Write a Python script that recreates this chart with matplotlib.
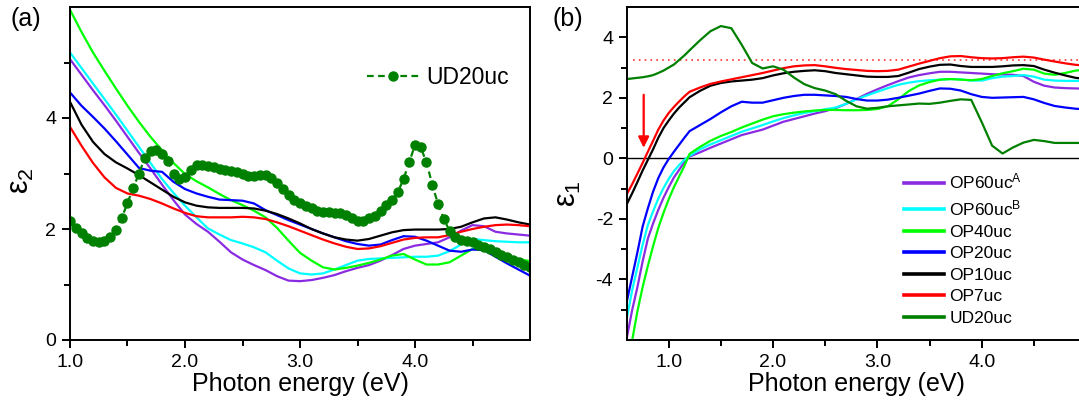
import numpy as np
import matplotlib
matplotlib.use("Agg")
import matplotlib.pyplot as plt
from matplotlib.ticker import FixedLocator, FormatStrFormatter

plt.rcParams['font.family'] = ['Liberation Sans', 'DejaVu Sans']
plt.rcParams['mathtext.fontset'] = 'custom'
plt.rcParams['mathtext.rm'] = 'Liberation Sans'
plt.rcParams['mathtext.it'] = 'Liberation Sans'

# ---------------- data: panel (a), imaginary part eps2 ----------------
energy_a = np.round(np.arange(1.0, 5.0001, 0.1), 2)
eps2_op60A = [5.06, 4.78, 4.50, 4.23, 3.95, 3.66, 3.37, 3.09, 2.80, 2.52, 2.26,
              2.09, 1.95, 1.77, 1.58, 1.45, 1.35, 1.26, 1.15, 1.07, 1.06,
              1.08, 1.12, 1.17, 1.24, 1.30, 1.35, 1.43, 1.53, 1.64, 1.70,
              1.73, 1.76, 1.85, 1.97, 2.07, 2.05, 1.95, 1.92, 1.90, 1.88]
eps2_op60B = [5.18, 4.90, 4.62, 4.34, 4.06, 3.77, 3.48, 3.19, 2.90, 2.65, 2.42,
              2.21, 2.01, 1.90, 1.80, 1.74, 1.67, 1.58, 1.43, 1.29, 1.20,
              1.18, 1.20, 1.27, 1.35, 1.43, 1.46, 1.47, 1.48, 1.49, 1.50,
              1.50, 1.52, 1.60, 1.72, 1.82, 1.80, 1.78, 1.77, 1.76, 1.76]
eps2_op40 = [5.95, 5.55, 5.18, 4.85, 4.53, 4.22, 3.93, 3.66, 3.42, 3.19, 2.99,
             2.86, 2.75, 2.63, 2.52, 2.43, 2.33, 2.21, 2.02, 1.79, 1.57,
             1.43, 1.31, 1.27, 1.30, 1.34, 1.39, 1.45, 1.52, 1.55, 1.45,
             1.36, 1.36, 1.40, 1.52, 1.64, 1.62, 1.56, 1.50, 1.46, 1.42]
eps2_op20 = [4.46, 4.22, 4.02, 3.81, 3.58, 3.34, 3.10, 3.05, 3.03, 2.85, 2.72,
             2.64, 2.58, 2.53, 2.52, 2.51, 2.46, 2.34, 2.25, 2.16, 2.08,
             2.00, 1.92, 1.85, 1.78, 1.73, 1.70, 1.72, 1.80, 1.87, 1.86,
             1.79, 1.70, 1.61, 1.59, 1.63, 1.62, 1.50, 1.38, 1.27, 1.16]
eps2_op10 = [4.29, 3.88, 3.57, 3.35, 3.20, 3.09, 2.97, 2.84, 2.71, 2.58, 2.48,
             2.42, 2.39, 2.38, 2.38, 2.38, 2.37, 2.33, 2.27, 2.19, 2.10,
             2.00, 1.92, 1.85, 1.81, 1.79, 1.82, 1.88, 1.94, 1.98, 1.99,
             1.99, 1.99, 2.00, 2.04, 2.12, 2.19, 2.21, 2.17, 2.12, 2.08]
eps2_op7 = [3.84, 3.50, 3.19, 2.93, 2.74, 2.64, 2.60, 2.54, 2.46, 2.37, 2.29,
            2.23, 2.21, 2.21, 2.21, 2.22, 2.21, 2.18, 2.12, 2.05, 1.97,
            1.89, 1.81, 1.74, 1.68, 1.64, 1.65, 1.69, 1.75, 1.81, 1.84,
            1.85, 1.85, 1.89, 1.95, 2.00, 2.04, 2.07, 2.08, 2.07, 2.05]

energy_ud = np.round(np.arange(1.0, 5.0001, 0.05), 2)
eps2_ud20 = [2.14, 2.01, 1.92, 1.84, 1.78, 1.76, 1.78, 1.85, 1.98, 2.20,
             2.47, 2.74, 3.00, 3.28, 3.41, 3.42, 3.36, 3.22, 3.00, 2.90,
             2.93, 3.07, 3.15, 3.16, 3.13, 3.11, 3.09, 3.07, 3.05, 3.02,
             2.99, 2.96, 2.95, 2.97, 2.97, 2.92, 2.82, 2.72, 2.62, 2.53,
             2.46, 2.41, 2.37, 2.33, 2.31, 2.30, 2.29, 2.28, 2.26, 2.19,
             2.15, 2.15, 2.19, 2.24, 2.33, 2.43, 2.52, 2.66, 2.90, 3.20,
             3.52, 3.47, 3.20, 2.80, 2.45, 2.18, 1.97, 1.86, 1.81, 1.79,
             1.76, 1.72, 1.68, 1.64, 1.59, 1.54, 1.49, 1.44, 1.40, 1.36,
             1.31]

# ---------------- data: panel (b), real part eps1 ----------------
energy_b = [0.60, 0.65, 0.70, 0.75, 0.80, 0.85, 0.90, 0.95, 1.00, 1.05, 1.10,
            1.15, 1.20, 1.30, 1.40, 1.50, 1.60, 1.70, 1.80, 1.90, 2.00,
            2.10, 2.20, 2.30, 2.40, 2.50, 2.60, 2.70, 2.80, 2.90, 3.00,
            3.10, 3.20, 3.30, 3.40, 3.50, 3.60, 3.70, 3.80, 3.90, 4.00,
            4.10, 4.20, 4.30, 4.40, 4.50, 4.60, 4.70, 4.80, 4.90, 5.00]
eps1_op60A = [-5.90, -5.00, -4.25, -3.40, -2.65, -2.15, -1.70, -1.30, -0.95, -0.63, -0.38,
              -0.12, 0.06, 0.20, 0.35, 0.49, 0.63, 0.77, 0.86, 0.95, 1.08,
              1.21, 1.30, 1.39, 1.48, 1.56, 1.66, 1.80, 1.96, 2.13, 2.28,
              2.42, 2.55, 2.67, 2.75, 2.81, 2.86, 2.86, 2.84, 2.82, 2.80,
              2.78, 2.77, 2.76, 2.72, 2.53, 2.40, 2.34, 2.32, 2.31, 2.30]
eps1_op60B = [-5.25, -4.35, -3.60, -2.85, -2.20, -1.75, -1.33, -0.98, -0.68, -0.42, -0.22,
              -0.05, 0.08, 0.30, 0.46, 0.60, 0.74, 0.88, 0.99, 1.10, 1.22,
              1.33, 1.42, 1.50, 1.56, 1.62, 1.68, 1.80, 1.95, 2.08, 2.20,
              2.32, 2.43, 2.50, 2.55, 2.58, 2.60, 2.62, 2.61, 2.57, 2.57,
              2.65, 2.70, 2.72, 2.75, 2.70, 2.60, 2.57, 2.56, 2.56, 2.55]
eps1_op40 = [-7.00, -6.00, -5.05, -4.25, -3.55, -2.90, -2.30, -1.80, -1.35, -0.95, -0.60,
             -0.25, 0.15, 0.38, 0.58, 0.74, 0.87, 1.02, 1.15, 1.28, 1.39,
             1.46, 1.51, 1.55, 1.58, 1.60, 1.60, 1.59, 1.59, 1.60, 1.63,
             1.72, 1.95, 2.22, 2.41, 2.52, 2.60, 2.62, 2.60, 2.58, 2.62,
             2.72, 2.81, 2.88, 2.96, 2.93, 2.80, 2.76, 2.82, 2.90, 2.93]
eps1_op20 = [-4.70, -3.90, -3.10, -2.25, -1.65, -1.10, -0.65, -0.30, -0.02, 0.22, 0.45,
             0.68, 0.90, 1.10, 1.30, 1.52, 1.72, 1.87, 1.84, 1.84, 1.92,
             2.00, 2.06, 2.10, 2.10, 2.08, 2.06, 2.03, 1.96, 1.91, 1.91,
             1.94, 2.00, 2.07, 2.14, 2.23, 2.31, 2.30, 2.24, 2.12, 2.03,
             2.00, 2.01, 2.02, 2.03, 1.95, 1.83, 1.73, 1.68, 1.64, 1.62]
eps1_op10 = [-1.50, -1.15, -0.78, -0.40, -0.05, 0.30, 0.68, 1.00, 1.25, 1.48, 1.68,
             1.85, 2.02, 2.23, 2.40, 2.49, 2.54, 2.57, 2.60, 2.65, 2.74,
             2.81, 2.86, 2.89, 2.91, 2.88, 2.82, 2.78, 2.74, 2.70, 2.69,
             2.69, 2.72, 2.83, 2.95, 3.03, 3.09, 3.10, 3.05, 3.02, 3.02,
             3.02, 3.04, 3.07, 3.08, 3.05, 2.93, 2.83, 2.74, 2.66, 2.62]
eps1_op7 = [-1.17, -0.85, -0.50, -0.15, 0.22, 0.58, 0.95, 1.25, 1.50, 1.70, 1.88,
            2.05, 2.20, 2.34, 2.46, 2.54, 2.61, 2.68, 2.75, 2.82, 2.90,
            2.98, 3.04, 3.07, 3.08, 3.04, 2.99, 2.95, 2.92, 2.89, 2.88,
            2.89, 2.93, 3.03, 3.13, 3.22, 3.31, 3.37, 3.38, 3.34, 3.31,
            3.30, 3.31, 3.34, 3.36, 3.33, 3.26, 3.20, 3.14, 3.09, 3.06]
eps1_ud20 = [2.62, 2.64, 2.66, 2.68, 2.71, 2.75, 2.82, 2.90, 3.00, 3.10, 3.25,
             3.40, 3.57, 3.90, 4.20, 4.37, 4.30, 3.75, 3.15, 2.97, 3.04,
             2.93, 2.67, 2.45, 2.32, 2.24, 2.12, 1.90, 1.72, 1.64, 1.67,
             1.72, 1.75, 1.78, 1.81, 1.80, 1.84, 1.90, 1.95, 1.93, 1.20,
             0.42, 0.16, 0.36, 0.52, 0.61, 0.57, 0.51, 0.51, 0.51, 0.51]

eps_inf_level = 3.24

labels = ['OP60uc$^{\\mathrm{A}}$', 'OP60uc$^{\\mathrm{B}}$', 'OP40uc',
          'OP20uc', 'OP10uc', 'OP7uc', 'UD20uc']
colors = ['#8A2BE2', '#00FFFF', '#00FF00', '#0000FF', '#000000', '#FF0000', '#008000']

x_major = [1.0, 2.0, 3.0, 4.0]
x_minor = [1.5, 2.5, 3.5, 4.5]
ya_major, ya_minor = [0, 2, 4], [1, 3, 5]
yb_major, yb_minor = [-4, -2, 0, 2, 4], [-5, -3, -1, 1, 3]

# ---------------- figure ----------------
W, H = 1079, 412
fig = plt.figure(figsize=(W / 100, H / 100), dpi=100)
ax1 = fig.add_axes([70 / W, 72 / H, 460 / W, 333 / H])
ax2 = fig.add_axes([627 / W, 72 / H, 459 / W, 333 / H])

LW = 1.6
series_a = [eps2_op60A, eps2_op60B, eps2_op40, eps2_op20, eps2_op10, eps2_op7]
for y, c in zip(series_a, colors[:6]):
    ax1.plot(energy_a, y, color=c, lw=LW)
ax1.plot(energy_ud, eps2_ud20, color=colors[6], lw=1.6, ls=(0, (3, 2)),
         marker='o', ms=6.5, label='UD20uc')

series_b = [eps1_op60A, eps1_op60B, eps1_op40, eps1_op20, eps1_op10, eps1_op7, eps1_ud20]
ax2.axhline(0, color='black', lw=1.0, zorder=1)
ax2.axhline(eps_inf_level, xmin=0.012, color='#FF3030', lw=1.2, ls=(0, (1, 2.5)), zorder=1)
for y, c, lab in zip(series_b, colors, labels):
    ax2.plot(energy_b, y, color=c, lw=LW, label=lab)
ax2.annotate('', xy=(0.76, 0.35), xytext=(0.76, 2.1),
             arrowprops=dict(arrowstyle='-|>', color='red', lw=1.6,
                             mutation_scale=16, shrinkA=0, shrinkB=0))

for ax, ymaj, ymin in ((ax1, ya_major, ya_minor), (ax2, yb_major, yb_minor)):
    ax.xaxis.set_major_locator(FixedLocator(x_major))
    ax.xaxis.set_minor_locator(FixedLocator(x_minor))
    ax.yaxis.set_major_locator(FixedLocator(ymaj))
    ax.yaxis.set_minor_locator(FixedLocator(ymin))
    ax.xaxis.set_major_formatter(FormatStrFormatter('%.1f'))
    ax.yaxis.set_major_formatter(FormatStrFormatter('%d'))
    ax.tick_params(which='major', direction='out', length=6, width=1.4,
                   labelsize=14, pad=4, top=False, right=False)
    ax.tick_params(which='minor', direction='out', length=4, width=1.4,
                   top=False, right=False)
    for sp in ax.spines.values():
        sp.set_linewidth(1.4)
    ax.set_xlabel('Photon energy (eV)', fontsize=18, labelpad=1)

ax1.set_xlim(1.0, 5.0)
ax1.set_ylim(0, 6.0)
ax2.set_xlim(0.6, 5.0)
ax2.set_ylim(-6.0, 5.0)

# axis titles for the permittivity components
fig.text(21 / W, 1 - 181 / H, 'ε$_2$', fontsize=22, rotation=90,
         ha='center', va='center')
fig.text(568 / W, 1 - 194 / H, 'ε$_1$', fontsize=22, rotation=90,
         ha='center', va='center')

fig.text(11 / W, 1 - 19 / H, '(a)', fontsize=18, va='center', ha='left')
fig.text(552 / W, 1 - 19 / H, '(b)', fontsize=18, va='center', ha='left')

leg1 = ax1.legend(loc='center left', bbox_to_anchor=(0.646, 0.787), frameon=False,
                  fontsize=16.5, handlelength=2.27, handletextpad=0.3,
                  borderpad=0, borderaxespad=0)

leg2 = ax2.legend(loc='upper left', bbox_to_anchor=(0.604, 0.505), frameon=False,
                  fontsize=12.5, handlelength=2.3, handletextpad=0.3,
                  labelspacing=0.37, borderpad=0, borderaxespad=0)
for ln in leg2.get_lines():
    ln.set_linewidth(2.6)

fig.savefig('out.png', dpi=100)
